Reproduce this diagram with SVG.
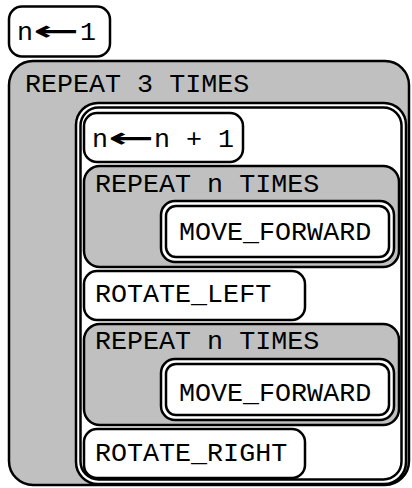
<svg xmlns="http://www.w3.org/2000/svg" width="412" height="488" viewBox="0 0 412 488">
<style>
.box{fill:#ffffff;stroke:#000;stroke-width:2.5}
.gray{fill:#c0c0c0;stroke:#000;stroke-width:2.5}
.line{fill:none;stroke:#000;stroke-width:2.5}
.t{font-family:"Liberation Mono","Courier New",monospace;font-size:26.7px;fill:#000}
.arr{font-family:"DejaVu Sans",sans-serif;font-weight:bold}
</style>
<rect width="412" height="488" fill="#ffffff"/>
<g id="assign-n-1">
<rect class="box" x="9" y="6.5" width="101" height="50" rx="13"/>
<text class="t" x="17" y="40">n<tspan class="arr" x="33" textLength="46" lengthAdjust="spacingAndGlyphs">←</tspan><tspan x="80">1</tspan></text>
</g>
<g id="repeat-3">
<rect class="gray" x="9" y="61" width="400" height="424" rx="24"/>
<text class="t" x="25" y="92">REPEAT 3 TIMES</text>
</g>
<g id="sequence">
<rect class="box" x="76" y="103" width="330" height="381" rx="22"/>
<rect class="line" x="80.5" y="107.5" width="321" height="372" rx="18"/>
</g>
<g id="assign-n-inc">
<rect class="box" x="84" y="113" width="159" height="49" rx="13"/>
<text class="t" x="92" y="147">n<tspan class="arr" x="108" textLength="46" lengthAdjust="spacingAndGlyphs">←</tspan><tspan x="154">n + 1</tspan></text>
</g>
<g id="repeat-n-1">
<rect class="gray" x="84" y="166" width="315" height="101" rx="16"/>
<text class="t" x="95" y="192">REPEAT n TIMES</text>
</g>
<g id="move-forward-1">
<rect class="box" x="161" y="201" width="233" height="61" rx="14"/>
<rect class="line" x="166" y="206" width="223" height="51" rx="10"/>
<text class="t" x="179" y="240">MOVE_FORWARD</text>
</g>
<g id="rotate-left">
<rect class="box" x="84" y="271" width="221" height="49" rx="13"/>
<text class="t" x="95" y="302">ROTATE_LEFT</text>
</g>
<g id="repeat-n-2">
<rect class="gray" x="84" y="324" width="315" height="101" rx="16"/>
<text class="t" x="95" y="349">REPEAT n TIMES</text>
</g>
<g id="move-forward-2">
<rect class="box" x="161" y="359" width="233" height="61" rx="14"/>
<rect class="line" x="166" y="364" width="223" height="51" rx="10"/>
<text class="t" x="179" y="401">MOVE_FORWARD</text>
</g>
<g id="rotate-right">
<rect class="box" x="84" y="429" width="221" height="49" rx="13"/>
<text class="t" x="95" y="461">ROTATE_RIGHT</text>
</g>
<g id="connectors"></g>
</svg>
